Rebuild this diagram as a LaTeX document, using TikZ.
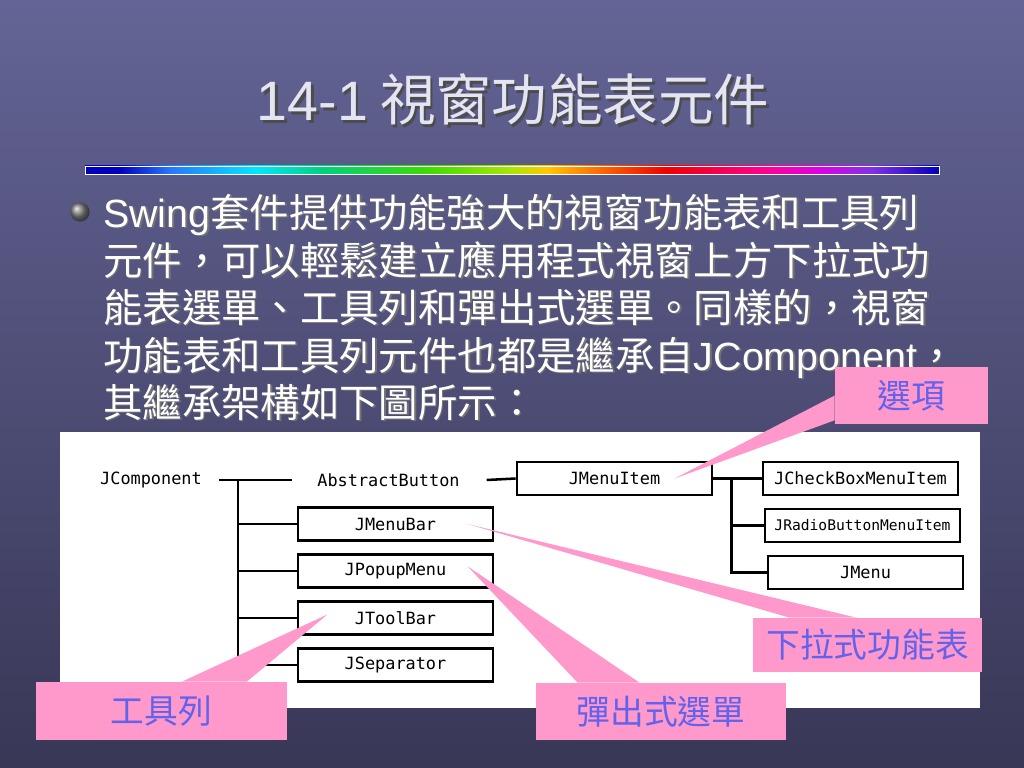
\documentclass[tikz,border=0pt]{standalone}
\usepackage{fontspec}
\setmainfont{Noto Sans CJK TC}
\newfontfamily\latin{Liberation Sans}
\newfontfamily\monof{DejaVu Sans Mono}
\usetikzlibrary{positioning}
\definecolor{bgtop}{RGB}{100,100,150}
\definecolor{bgbot}{RGB}{56,55,86}
\definecolor{titlecol}{RGB}{228,228,242}
\definecolor{notepink}{RGB}{255,153,204}
\definecolor{noteblue}{RGB}{98,98,235}
\definecolor{rbA}{RGB}{0,0,190}
\definecolor{rbB}{RGB}{40,120,255}
\definecolor{rbC}{RGB}{0,230,255}
\definecolor{rbD}{RGB}{0,210,120}
\definecolor{rbE}{RGB}{60,220,0}
\definecolor{rbF}{RGB}{170,230,0}
\definecolor{rbG}{RGB}{255,200,0}
\definecolor{rbH}{RGB}{255,110,0}
\definecolor{rbI}{RGB}{240,0,0}
\definecolor{rbJ}{RGB}{255,0,150}
\definecolor{rbK}{RGB}{220,0,230}
\definecolor{rbL}{RGB}{130,50,230}
\pgfdeclarehorizontalshading{rainbowbar}{100bp}{color(0bp)=(rbA); color(25bp)=(rbA); color(27bp)=(rbA);
  color(30bp)=(rbB); color(35bp)=(rbC); color(39bp)=(rbD); color(45bp)=(rbE); color(50bp)=(rbF);
  color(52bp)=(rbG); color(55bp)=(rbH); color(59bp)=(rbI); color(65bp)=(rbJ); color(68bp)=(rbK);
  color(71bp)=(rbL); color(75bp)=(rbA); color(100bp)=(rbA)}
\tikzstyle{cls}=[rectangle,draw,line width=2pt,fill=white,minimum width=4.875cm,minimum height=0.825cm,inner sep=0pt,font=\monof\fontsize{12}{14}\selectfont]
\tikzstyle{plain}=[inner sep=0pt,font=\monof\fontsize{12}{14}\selectfont]
\tikzstyle{wire}=[line width=1.8pt]
\tikzstyle{note}=[rectangle,fill=notepink,text=noteblue,inner sep=0pt,font=\fontsize{24}{28}\selectfont]
\tikzstyle{body}=[anchor=base west,inner sep=0pt,text=white,font=\fontsize{28}{34}\selectfont]
\tikzstyle{bodyshade}=[body,text=black!55]
\tikzstyle{title}=[anchor=base,inner sep=0pt,text=titlecol,font=\fontsize{39.5}{46}\selectfont]

\begin{document}
\begin{tikzpicture}[x=0.025cm,y=-0.025cm]
\useasboundingbox (0,0) rectangle (1024,768);
\shade[top color=bgtop,bottom color=bgbot] (0,0) rectangle (1024,768);

% title and rainbow rule
\node[title,text=black!70] at (515.5,123.5) {{\latin 14-1} 視窗功能表元件};
\node[title] (title) at (513,121) {{\latin 14-1} 視窗功能表元件};
\shade[shading=rainbowbar,draw=white,line width=0.6pt] (85,166) rectangle (939,174);

% bullet text
\node[circle,shade,ball color=gray,minimum size=0.48cm,inner sep=0pt] (bullet) at (80,212) {};
\foreach \n/\yy/\txt in {1/227/{{\latin Swing}套件提供功能強大的視窗功能表和工具列},
                        2/275/{元件，可以輕鬆建立應用程式視窗上方下拉式功},
                        3/322/{能表選單、工具列和彈出式選單。同樣的，視窗},
                        4/370/{功能表和工具列元件也都是繼承自{\latin JComponent}，},
                        5/417/{其繼承架構如下圖所示：}}{
  \node[bodyshade] at (104.5,\yy+1.5) {\txt};
  \node[body] (line\n) at (103,\yy) {\txt};
}

% class hierarchy
\fill[white] (60,432) rectangle (980,708);
\node[plain] (jcomp) at (151,480) {JComponent};
\node[plain] (abstract) at (388.5,480) {AbstractButton};
\node[cls] (menubar) at (395.5,524) {JMenuBar};
\node[cls, below=0.28cm of menubar] (popup) {JPopupMenu};
\node[cls, below=0.28cm of popup] (toolbar) {JToolBar};
\node[cls, below=0.28cm of toolbar] (sep) {JSeparator};
\node[cls] (menuitem) at (614.5,478.5) {JMenuItem};
\node[cls] (checkbox) at (860.5,478.5) {JCheckBoxMenuItem};
\node[cls, below=0.28cm of checkbox, xshift=0.05cm, font=\monof\fontsize{10.4}{12}\selectfont] (radio) {JRadioButtonMenuItem};
\node[cls, below=0.28cm of radio, xshift=0.075cm] (jmenu) {JMenu};

\coordinate (trunkA) at ([xshift=0.9cm]jcomp.east);
\coordinate (trunkB) at ([xshift=0.45cm]menuitem.east);
\draw[wire] ([xshift=0.42cm]jcomp.east) -- ([xshift=-0.62cm]abstract.west);
\draw[wire] (trunkA) |- (sep.west);
\foreach \b in {menubar,popup,toolbar}
  \draw[wire] (trunkA |- \b.west) -- (\b.west);
\draw[wire] ([xshift=0.67cm]abstract.east) -- (menuitem.west);
\draw[wire] (menuitem.east) -- (checkbox.west);
\draw[wire] (trunkB) |- (jmenu.west);
\draw[wire] (trunkB |- radio.west) -- (radio.west);

% callouts
\node[note,minimum width=3.825cm,minimum height=1.425cm] (optnote) at (911.5,395.5) {選項};
\node[note,minimum width=5.725cm,minimum height=1.35cm] (dropnote) at (867.5,645) {下拉式功能表};
\node[note,minimum width=6.25cm,minimum height=1.425cm] (popnote) at (661,711.5) {彈出式選單};
\node[note,minimum width=6.275cm,minimum height=1.45cm] (toolnote) at (161.5,711) {工具列};
\fill[notepink] ([xshift=1.5cm]menuitem.center) -- (optnote.west) -- ([yshift=0.1cm]optnote.south west) -- cycle;
\fill[notepink] ([xshift=1.8cm]menubar.center) -- ([xshift=2.6cm]dropnote.north west) -- ([xshift=0.925cm]dropnote.north west) -- cycle;
\fill[notepink] ([xshift=1.8cm,yshift=0.12cm]popup.center) -- ([xshift=2.6cm]popnote.north west) -- ([xshift=1.05cm]popnote.north west) -- cycle;
\fill[notepink] ([xshift=-1.7cm,yshift=0.09cm]toolbar.center) -- ([xshift=5.275cm]toolnote.north west) -- ([xshift=3.65cm]toolnote.north west) -- cycle;
\end{tikzpicture}
\end{document}
